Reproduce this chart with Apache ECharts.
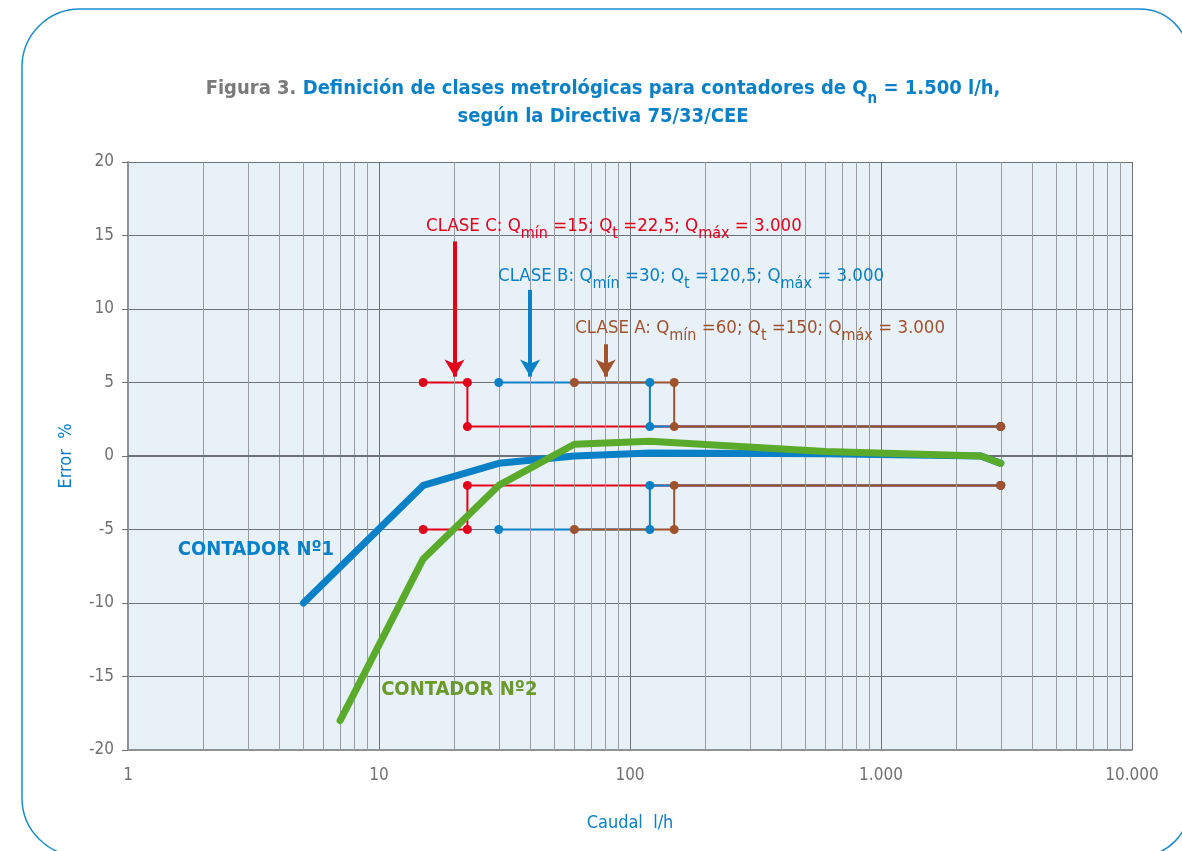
<!DOCTYPE html>
<html>
<head>
<meta charset="utf-8">
<script src="https://cdn.jsdelivr.net/npm/echarts@6/dist/echarts.min.js"></script>
<style>
  html, body { margin: 0; padding: 0; background: #fff; }
  #chart { width: 1182px; height: 851px; }
</style>
</head>
<body>
<div id="chart"></div>
<script>
// Error curves of two meters, flow in l/h (log scale) vs. error %
const contador1 = [[5, -10], [15, -2], [30, -0.5], [60, 0], [120, 0.2], [600, 0.15], [2500, 0], [3000, -0.5]];
const contador2 = [[7, -18], [15, -7], [30, -2], [60, 0.8], [120, 1.0], [600, 0.3], [2500, 0], [3000, -0.5]];

// Metrological class limits: [Qmin, Qt, Qmax]
const claseC = [15, 22.5, 3000];
const claseB = [30, 120, 3000];
const claseA = [60, 150, 3000];
const limiteBajo = 5;   // max permitted error between Qmin and Qt (%)
const limiteAlto = 2;   // max permitted error between Qt and Qmax (%)

// Arrows pointing at each class: [x, yStart, yEnd]
const flechaC = [20, 14.6, 5.4];
const flechaB = [40, 11.3, 5.4];
const flechaA = [80, 7.6, 5.4];

// Label anchors
const etiquetaC = [15.4, 15.5];
const etiquetaB = [29.8, 12.1];
const etiquetaA = [60.5, 8.6];
const etiqueta1 = [1.58, -6.4];
const etiqueta2 = [10.2, -15.9];

const xTickValues = [1, 10, 100, 1000, 10000];
const xTickLabels = ['1', '10', '100', '1.000', '10.000'];
const yTicks = [-20, -15, -10, -5, 0, 5, 10, 15, 20];

const COL_RED = '#e2001a';
const COL_BLUE = '#0a80c6';
const COL_BROWN = '#a0522d';
const COL_GREEN = '#5aab2b';
const COL_GREEN_TXT = '#6b9a2a';
const FONT = "'Liberation Sans Narrow', 'DejaVu Sans Condensed', 'Noto Sans', sans-serif";

// minor log grid positions 2..9 in every decade
const minorX = [];
for (let d = 1; d < 10000; d *= 10) {
  for (let k = 2; k <= 9; k++) minorX.push(k * d);
}

function classPath(c, sign) {
  return [[c[0], sign * limiteBajo], [c[1], sign * limiteBajo], [c[1], sign * limiteAlto], [c[2], sign * limiteAlto]];
}

function classSeries(c, color) {
  const out = [];
  [1, -1].forEach(function (s) {
    out.push({
      type: 'line', data: classPath(c, s), showSymbol: false, silent: true,
      lineStyle: { color: color, width: 2 }, z: 4, animation: false
    });
  });
  return out;
}

function classDots(c, color) {
  const pts = [];
  [1, -1].forEach(function (s) { classPath(c, s).forEach(function (p) { pts.push(p); }); });
  return {
    type: 'scatter', data: pts, symbol: 'circle', symbolSize: 9, silent: true,
    itemStyle: { color: color, opacity: 1 }, z: 5, animation: false
  };
}

function arrow(a, color) {
  return {
    type: 'line', data: [], silent: true, z: 6, animation: false,
    markLine: {
      silent: true, animation: false,
      symbol: ['none', 'arrow'], symbolSize: [15, 17],
      lineStyle: { color: color, width: 4, type: 'solid' },
      label: { show: false },
      data: [[{ coord: [a[0], a[1]] }, { coord: [a[0], a[2]] }]]
    }
  };
}

function subRich(color) {
  return {
    m: { color: color, fontSize: 18.5, fontFamily: FONT, lineHeight: 22, verticalAlign: 'top' },
    s: { color: color, fontSize: 16, fontFamily: FONT, lineHeight: 17, padding: [9, 0, 0, 0], verticalAlign: 'top' }
  };
}

function classLabel(pos, text, color) {
  return {
    type: 'scatter', data: [pos], symbolSize: 0, silent: true, z: 7, animation: false,
    itemStyle: { opacity: 1 },
    label: {
      show: true, position: 'right', distance: 0,
      formatter: text, rich: subRich(color)
    }
  };
}

function meterLabel(pos, text, color) {
  return {
    type: 'scatter', data: [pos], symbolSize: 0, silent: true, z: 7, animation: false,
    itemStyle: { opacity: 1 },
    label: {
      show: true, position: 'right', distance: 0, formatter: text,
      color: color, fontSize: 20, fontWeight: 'bold', fontFamily: FONT
    }
  };
}

const chart = echarts.init(document.getElementById('chart'), null, { renderer: 'canvas' });

const option = {
  backgroundColor: '#ffffff',
  animation: false,
  graphic: [
    {
      type: 'rect', silent: true, z: -10,
      shape: { x: 22, y: 9, width: 1167, height: 847, r: [58, 49, 49, 58] },
      style: { fill: 'none', stroke: '#1b8bd0', lineWidth: 1.5 }
    },
    {
      // two-line heading, centred over the plot
      type: 'text', silent: true, x: 603, y: 79,
      style: {
        align: 'center', verticalAlign: 'top',
        text: '{g|Figura 3. }{b|Definición de clases metrológicas para contadores de Q}{s|n}{b| = 1.500 l/h,}\n{b|según la Directiva 75/33/CEE}',
        rich: {
          g: { fill: '#7a7a7a', fontSize: 20, fontWeight: 'bold', fontFamily: FONT, lineHeight: 28, verticalAlign: 'top' },
          b: { fill: '#0a80c6', fontSize: 20, fontWeight: 'bold', fontFamily: FONT, lineHeight: 28, verticalAlign: 'top' },
          s: { fill: '#0a80c6', fontSize: 15, fontWeight: 'bold', fontFamily: FONT, lineHeight: 16, padding: [13, 0, 0, 0], verticalAlign: 'top' }
        }
      }
    }
  ],
  grid: { left: 128, right: 50, top: 162, bottom: 101, backgroundColor: '#e8f0f8', show: true, borderWidth: 0 },
  xAxis: {
    type: 'log', logBase: 10, min: 1, max: 10000,
    name: 'Caudal  l/h', nameLocation: 'middle', nameGap: 64,
    nameTextStyle: { color: COL_BLUE, fontSize: 18, fontFamily: FONT },
    axisLine: { show: true, onZero: false, lineStyle: { color: '#8f9398', width: 2 } },
    axisTick: { show: false },
    axisLabel: {
      color: '#707070', fontSize: 17, fontFamily: FONT, margin: 17,
      formatter: function (v) { const i = xTickValues.indexOf(Math.round(v)); return i >= 0 ? xTickLabels[i] : ''; }
    },
    splitLine: { show: true, lineStyle: { color: '#6e7176', width: 1 } }
  },
  yAxis: {
    type: 'value', min: -20, max: 20, interval: 5,
    name: 'Error  %', nameLocation: 'middle', nameGap: 53, nameRotate: 90,
    nameTextStyle: { color: COL_BLUE, fontSize: 18, fontFamily: FONT },
    axisLine: { show: true, onZero: false, lineStyle: { color: '#8f9398', width: 2 } },
    axisTick: { show: true, inside: false, length: 6, lineStyle: { color: '#707070', width: 1 } },
    axisLabel: {
      color: '#707070', fontSize: 17, fontFamily: FONT, margin: 14,
      formatter: function (v) { return yTicks.indexOf(v) >= 0 ? String(v) : ''; }
    },
    splitLine: { show: true, lineStyle: { color: '#6e7176', width: 1 } }
  },
  series: [
    // minor vertical grid lines and the zero line
    {
      type: 'line', data: [], silent: true, z: 1, animation: false,
      markLine: {
        silent: true, animation: false, symbol: ['none', 'none'], label: { show: false },
        lineStyle: { color: '#989ca2', width: 1, type: 'solid' },
        data: minorX.map(function (v) { return { xAxis: v }; }).concat([
          { yAxis: 0, lineStyle: { color: '#6e7176', width: 2, type: 'solid' } }
        ])
      }
    },
    ...classSeries(claseC, COL_RED),
    ...classSeries(claseB, COL_BLUE),
    ...classSeries(claseA, COL_BROWN),
    classDots(claseC, COL_RED),
    classDots(claseB, COL_BLUE),
    classDots(claseA, COL_BROWN),
    {
      type: 'line', data: contador1, showSymbol: false, silent: true, z: 8,
      lineStyle: { color: COL_BLUE, width: 7, cap: 'round', join: 'round' }
    },
    {
      type: 'line', data: contador2, showSymbol: false, silent: true, z: 9,
      lineStyle: { color: COL_GREEN, width: 7, cap: 'round', join: 'round' }
    },
    arrow(flechaC, COL_RED),
    arrow(flechaB, COL_BLUE),
    arrow(flechaA, COL_BROWN),
    classLabel(etiquetaC, '{m|CLASE C: Q}{s|mín}{m| =15; Q}{s|t}{m| =22,5; Q}{s|máx}{m| = 3.000}', COL_RED),
    classLabel(etiquetaB, '{m|CLASE B: Q}{s|mín}{m| =30; Q}{s|t}{m| =120,5; Q}{s|máx}{m| = 3.000}', COL_BLUE),
    classLabel(etiquetaA, '{m|CLASE A: Q}{s|mín}{m| =60; Q}{s|t}{m| =150; Q}{s|máx}{m| = 3.000}', COL_BROWN),
    meterLabel(etiqueta1, 'CONTADOR Nº1', COL_BLUE),
    meterLabel(etiqueta2, 'CONTADOR Nº2', COL_GREEN_TXT)
  ]
};

chart.setOption(option);
</script>
</body>
</html>
